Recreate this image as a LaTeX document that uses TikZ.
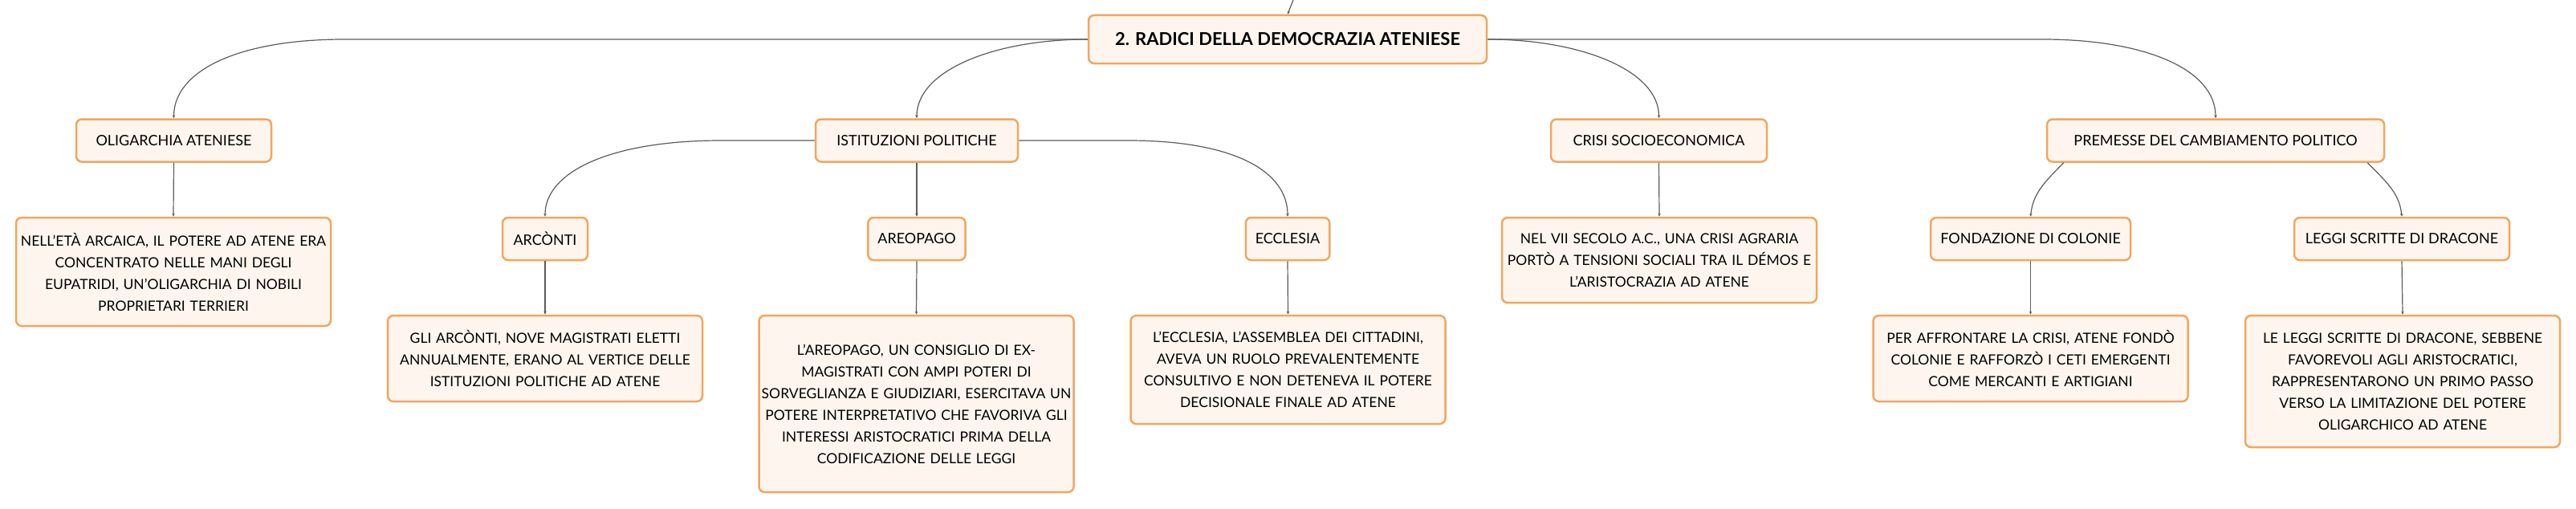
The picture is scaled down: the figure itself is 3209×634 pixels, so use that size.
\documentclass[tikz,border=0pt]{standalone}
\usepackage{fontspec}
\setmainfont{Lato}
\usetikzlibrary{arrows.meta}
\definecolor{boxfill}{HTML}{FEF6EE}
\definecolor{boxline}{HTML}{F2A65E}
\definecolor{linkgray}{HTML}{5C5C5C}
\begin{document}
\begin{tikzpicture}
            [x=1pt,y=-1pt,
             every node/.style={rectangle,rounded corners=7pt,draw=boxline,line width=2.5pt,fill=boxfill,
               font=\fontsize{18}{27}\selectfont,inner xsep=12pt,inner ysep=0pt,minimum height=53pt},
             rootbox/.style={font=\fontsize{22}{27}\selectfont\bfseries,minimum height=60pt,minimum width=496pt},
             descbox/.style={font=\fontsize{17.5}{27}\selectfont,text width=388pt,inner xsep=2pt,align=center},
             link/.style={draw=linkgray,line width=1.2pt,-{Stealth[length=4pt,width=3.5pt]}}]
            \useasboundingbox (0,0) rectangle (3209,634);
            % titolo e primo livello
            \node (root)  at (1604,49)    [rootbox] {2. RADICI DELLA DEMOCRAZIA ATENIESE};
            \node (olig)  at (216.5,175)  [minimum width=243pt] {OLIGARCHIA ATENIESE};
            \node (ist)   at (1142,175)   [minimum width=252pt] {ISTITUZIONI POLITICHE};
            \node (crisi) at (2066.5,175) [minimum width=269pt] {CRISI SOCIOECONOMICA};
            \node (prem)  at (2760,175)   [minimum width=420pt] {PREMESSE DEL CAMBIAMENTO POLITICO};
            % secondo livello
            \node (arc)   at (679,297.5)    [minimum width=106pt] {ARCÒNTI};
            \node (areo)  at (1142,297.5)   [minimum width=120pt] {AREOPAGO};
            \node (ecc)   at (1604,297.5)   [minimum width=104pt] {ECCLESIA};
            \node (fond)  at (2529.5,297.5) [minimum width=249pt] {FONDAZIONE DI COLONIE};
            \node (leggi) at (2992,297.5)   [minimum width=268pt] {LEGGI SCRITTE DI DRACONE};
            % descrizioni
            \node (oligd)  at (216,338.5)   [descbox,minimum height=135pt] {NELL'ETÀ ARCAICA, IL POTERE AD ATENE ERA\\CONCENTRATO NELLE MANI DEGLI\\EUPATRIDI, UN'OLIGARCHIA DI NOBILI\\PROPRIETARI TERRIERI};
            \node (arcd)   at (679,446.5)   [descbox,minimum height=107pt] {GLI ARCÒNTI, NOVE MAGISTRATI ELETTI\\ANNUALMENTE, ERANO AL VERTICE DELLE\\ISTITUZIONI POLITICHE AD ATENE};
            \node (areod)  at (1141.5,503)  [descbox,minimum height=220pt] {L'AREOPAGO, UN CONSIGLIO DI EX-\\MAGISTRATI CON AMPI POTERI DI\\SORVEGLIANZA E GIUDIZIARI, ESERCITAVA UN\\POTERE INTERPRETATIVO CHE FAVORIVA GLI\\INTERESSI ARISTOCRATICI PRIMA DELLA\\CODIFICAZIONE DELLE LEGGI};
            \node (eccd)   at (1604.5,460.5) [descbox,minimum height=135pt] {L'ECCLESIA, L'ASSEMBLEA DEI CITTADINI,\\AVEVA UN RUOLO PREVALENTEMENTE\\CONSULTIVO E NON DETENEVA IL POTERE\\DECISIONALE FINALE AD ATENE};
            \node (crisid) at (2067,324)    [descbox,minimum height=106pt] {NEL VII SECOLO A.C., UNA CRISI AGRARIA\\PORTÒ A TENSIONI SOCIALI TRA IL DÉMOS E\\L'ARISTOCRAZIA AD ATENE};
            \node (fondd)  at (2529.5,446.5) [descbox,minimum height=107pt] {PER AFFRONTARE LA CRISI, ATENE FONDÒ\\COLONIE E RAFFORZÒ I CETI EMERGENTI\\COME MERCANTI E ARTIGIANI};
            \node (leggid) at (2993,475)    [descbox,minimum height=164pt] {LE LEGGI SCRITTE DI DRACONE, SEBBENE\\FAVOREVOLI AGLI ARISTOCRATICI,\\RAPPRESENTARONO UN PRIMO PASSO\\VERSO LA LIMITAZIONE DEL POTERE\\OLIGARCHICO AD ATENE};
            % collegamenti
            \coordinate (up) at (1611,0);
            \draw[link] (up) -- (root.north);
            \draw[link] (root.west) -- ++(-926,0) .. controls +(-130,0) and +(0,-60) .. (olig.north);
            \draw[link] (root.west) .. controls +(-115,0) and +(0,-60) .. (ist.north);
            \draw[link] (ist.west) -- ++(-116,0) .. controls +(-140,0) and +(0,-55) .. (arc.north);
            \draw[link] (ist.east) -- ++(136,0) .. controls +(135,0) and +(0,-55) .. (ecc.north);
            \draw[link] (root.east) .. controls +(115,0) and +(0,-60) .. (crisi.north);
            \draw[link] (root.east) -- ++(691,0) .. controls +(130,0) and +(0,-60) .. (prem.north);
            \draw[link] ([xshift=22pt]prem.south west) .. controls +(-26,26) and +(3,-28) .. (fond.north);
            \draw[link] ([xshift=-22pt]prem.south east) .. controls +(26,26) and +(-3,-28) .. (leggi.north);
            \foreach \from/\to in {olig/oligd,ist/areo,crisi/crisid,arc/arcd,areo/areod,ecc/eccd,fond/fondd,leggi/leggid}
            \draw[link] (\from.south) -- (\to.north);
        \end{tikzpicture}
\end{document}
